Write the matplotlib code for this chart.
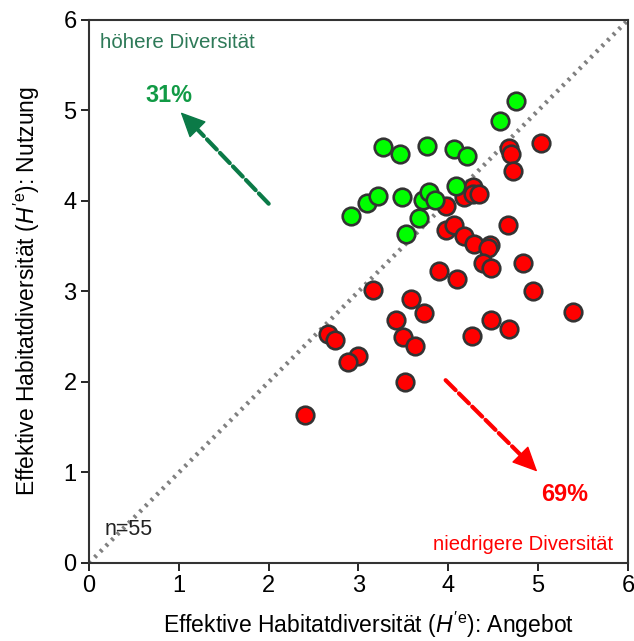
import numpy as np
import matplotlib
matplotlib.use("Agg")
import matplotlib.pyplot as plt

plt.rcParams['font.family'] = ['Liberation Sans', 'DejaVu Sans']
plt.rcParams['mathtext.fontset'] = 'custom'
plt.rcParams['mathtext.rm'] = 'Liberation Sans'
plt.rcParams['mathtext.it'] = 'Liberation Sans:italic'

# Habitat diversity: supply (x) vs. use (y)
green_x = [4.75, 4.57, 3.27, 3.46, 3.76, 4.06, 4.21, 2.92, 3.10, 3.22, 3.48,
           3.72, 3.78, 3.85, 4.08, 3.67, 3.53]
green_y = [5.11, 4.88, 4.60, 4.52, 4.61, 4.58, 4.50, 3.83, 3.98, 4.06, 4.04,
           4.01, 4.10, 4.01, 4.17, 3.81, 3.64]

red_x = [4.67, 4.70, 4.72, 5.03, 3.97, 4.17, 4.28, 4.28, 4.34, 4.66, 3.97,
         4.06, 4.17, 4.29, 4.46, 4.44, 4.39, 4.47, 4.83, 3.90, 4.10, 4.94,
         3.73, 5.39, 4.47, 4.68, 4.26, 3.16, 3.59, 3.42, 2.66, 2.74, 3.50,
         3.63, 2.99, 2.88, 3.52, 2.41]
red_y = [4.59, 4.52, 4.33, 4.64, 3.95, 4.04, 4.15, 4.08, 4.08, 3.74, 3.68,
         3.74, 3.61, 3.53, 3.51, 3.48, 3.31, 3.26, 3.32, 3.23, 3.14, 3.01,
         2.76, 2.77, 2.69, 2.59, 2.51, 3.02, 2.92, 2.69, 2.53, 2.46, 2.50,
         2.40, 2.29, 2.22, 2.00, 1.64]

n_total = len(green_x) + len(red_x)
pct_up = round(100 * len(green_x) / n_total)
pct_down = 100 - pct_up

fig = plt.figure(figsize=(6.34, 6.41), dpi=100)
ax = fig.add_axes([0.1404, 0.1217, 0.8501, 0.8471])

ax.plot([0, 6], [0, 6], linestyle=(0, (0.6, 1.2)), color='#808080', lw=3.2,
        dash_capstyle='butt', zorder=1)

ax.scatter(red_x, red_y, s=160, c='#ff0000', edgecolors='#333333',
           linewidths=1.9, zorder=3)
ax.scatter(green_x, green_y, s=160, c='#00ff00', edgecolors='#333333',
           linewidths=1.9, zorder=3)


def dashed_arrow(start, end, color):
    # dashed shaft + solid filled head
    dx, dy = end[0] - start[0], end[1] - start[1]
    back = 0.14
    base = (end[0] - back * np.sign(dx), end[1] - back * np.sign(dy))
    ax.annotate('', xy=base, xytext=start,
                arrowprops=dict(arrowstyle='-', color=color, lw=3.0,
                                linestyle=(0, (3.4, 1.1)),
                                shrinkA=0, shrinkB=0))
    ax.annotate('', xy=end, xytext=base,
                arrowprops=dict(arrowstyle='-|>,head_length=1.6,head_width=0.75',
                                color=color, lw=1.0, shrinkA=0, shrinkB=0))


dashed_arrow((2.0, 3.97), (1.02, 4.98), '#0b7a47')
dashed_arrow((3.97, 2.02), (4.99, 1.01), '#ff0000')

ax.text(0.123, 5.75, 'höhere Diversität', color='#2e7a58', fontsize=14.8,
        ha='left', va='center')
ax.text(0.886, 5.17, f'{pct_up}%', color='#119a45', fontsize=16.8,
        fontweight='bold', ha='center', va='center')
ax.text(5.30, 0.76, f'{pct_down}%', color='#ff0000', fontsize=16.8,
        fontweight='bold', ha='center', va='center')
ax.text(5.83, 0.2, 'niedrigere Diversität', color='#ff0000', fontsize=14.6,
        ha='right', va='center')
ax.text(0.17, 0.365, 'n=55', color='#222222', fontsize=15.5,
        ha='left', va='center')

ax.set_xlim(0, 6)
ax.set_ylim(0, 6)
ax.set_xticks(range(7))
ax.set_yticks(range(7))
ax.tick_params(direction='out', length=6, width=1.2, labelsize=17, pad=3)
for s in ax.spines.values():
    s.set_linewidth(1.5)
    s.set_color('#333333')

ax.set_xlabel(r"Effektive Habitatdiversität ($\mathit{H'}^{\mathrm{e}}$): Angebot",
              fontsize=16.5)
ax.set_ylabel(r"Effektive Habitatdiversität ($\mathit{H'}^{\mathrm{e}}$): Nutzung",
              fontsize=16.5)
ax.xaxis.set_label_coords(0.518, -0.086)
ax.yaxis.set_label_coords(-0.088, 0.5)

fig.savefig('out.png', dpi=100)
